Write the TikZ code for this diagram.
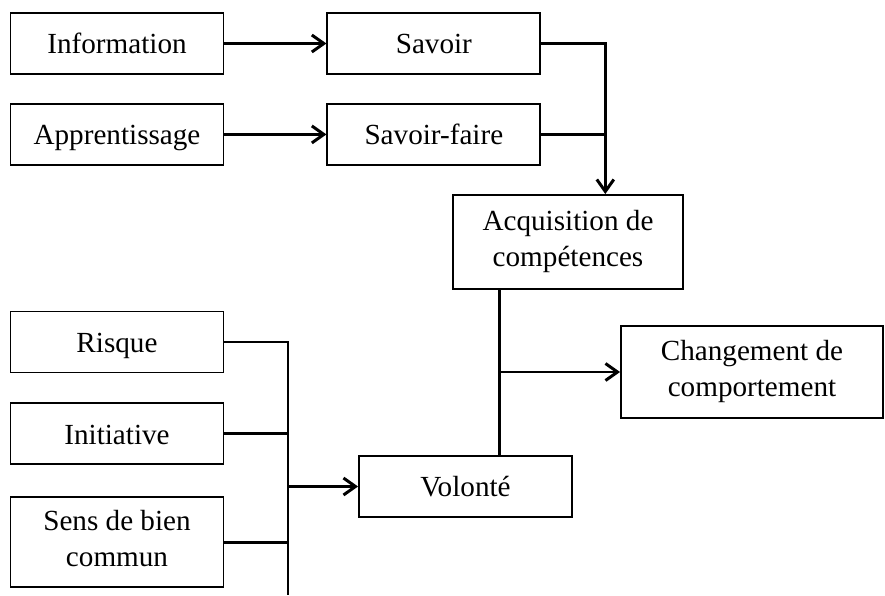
\documentclass[tikz,border=0pt]{standalone}
\usepackage{fontspec}
\setmainfont{Liberation Serif}
\usetikzlibrary{positioning,arrows.meta}

\newcommand{\boxstrut}{\rule[-4.1pt]{0pt}{20.1pt}}

\begin{document}
\begin{tikzpicture}[x=0.02cm,y=-0.02cm,line width=1.7pt,
	>={Straight Barb[length=2.4mm,width=3.4mm]},
	box/.style={draw,line width=1.1pt,minimum width=4.26cm,minimum height=1.22cm,
		align=center,inner sep=0pt,font=\fontsize{16.6}{20.5}\selectfont,
		execute at begin node=\boxstrut,execute at end node=\boxstrut},
	node distance=0.56cm and 2.04cm]

		\useasboundingbox (0,0) rectangle (885,595);

		%knowledge side
		\node[box] (info) at (117,43.5) {Information};
		\node[box,right=of info] (savoir) {Savoir};
		\node[box,below=of info] (appr) {Apprentissage};
		\node[box,right=of appr] (savfaire) {Savoir-faire};
		\node[box,minimum width=4.6cm,minimum height=1.88cm] (acq) at (568,242) {Acquisition de\\compétences};
		\draw[->] (info) -- (savoir);
		\draw[->] (appr) -- (savfaire);
		\draw[->] (savoir.east) -- ++(64,0) coordinate (jtop) -- (jtop |- acq.north);
		\draw (savfaire.east) -- (savfaire.east -| jtop);

		%will side
		\node[box] (risque) at (117,342) {Risque};
		\node[box,below=0.58cm of risque] (init) {Initiative};
		\node[box,below=0.62cm of init,minimum height=1.8cm] (sens) {Sens de bien\\commun};
		\node[box] (volonte) at (465.5,486.5) {Volonté};
		\coordinate (bus) at (288,595);
		\draw (risque.east) -- (risque.east -| bus) -- (bus);
		\draw (init.east) -- (init.east -| bus);
		\draw (sens.east) -- (sens.east -| bus);
		\draw[->] (bus |- volonte.west) -- (volonte.west);

		% both lead to the change
		\node[box,minimum width=5.24cm,minimum height=1.84cm] (chg) at (752,372) {Changement de\\comportement};
		\coordinate (jmid) at (499,372);
		\draw (acq.south -| jmid) -- (volonte.north -| jmid);
		\draw[->] (jmid) -- (chg.west);

	\end{tikzpicture}
\end{document}
